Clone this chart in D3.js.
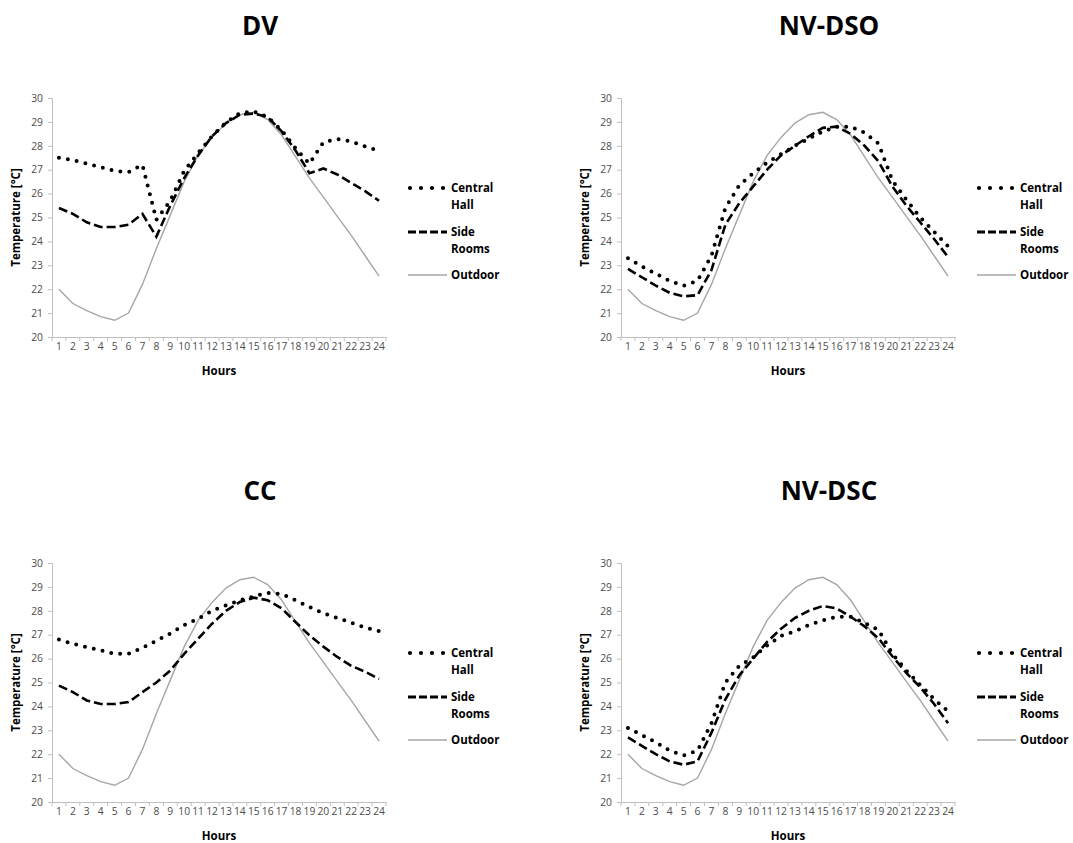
<!DOCTYPE html>
<html>
<head>
<meta charset="utf-8">
<script src="https://cdn.jsdelivr.net/npm/d3@7"></script>
<style>
  body { margin: 0; background: #fff; }
  svg { display: block; font-family: "Open Sans", sans-serif; }
</style>
</head>
<body>
<svg id="chart" width="1073" height="843"></svg>
<script>
const hours = d3.range(1, 25);
const yTicks = [20, 21, 22, 23, 24, 25, 26, 27, 28, 29, 30];

// outdoor temperature is the same in every panel
const outdoor = [22.0, 21.4, 21.1, 20.85, 20.7, 21.0, 22.2, 23.7, 25.1, 26.5, 27.6, 28.35,
  28.95, 29.3, 29.4, 29.1, 28.45, 27.55, 26.65, 25.85, 25.05, 24.25, 23.4, 22.55];

const dvCentral = [27.5, 27.4, 27.25, 27.1, 26.95, 26.9, 27.2, 24.9, 25.7, 26.95, 27.7, 28.4,
  28.98, 29.37, 29.44, 29.2, 28.65, 27.9, 27.25, 28.15, 28.28, 28.18, 27.97, 27.8];
const dvSide = [25.4, 25.15, 24.8, 24.6, 24.6, 24.7, 25.15, 24.2, 25.5, 26.65, 27.6, 28.4,
  28.95, 29.3, 29.35, 29.2, 28.6, 27.8, 26.85, 27.05, 26.8, 26.45, 26.1, 25.7];

const dsoCentral = [23.3, 22.95, 22.65, 22.35, 22.15, 22.35, 23.4, 25.4, 26.35, 26.85, 27.3, 27.65,
  28.0, 28.3, 28.6, 28.8, 28.8, 28.55, 28.1, 26.55, 25.75, 25.0, 24.4, 23.8];
const dsoSide = [22.85, 22.5, 22.15, 21.85, 21.7, 21.75, 22.8, 24.7, 25.6, 26.3, 27.0, 27.6,
  28.0, 28.4, 28.75, 28.8, 28.5, 28.0, 27.35, 26.3, 25.5, 24.8, 24.1, 23.35];

const ccCentral = [26.8, 26.62, 26.48, 26.35, 26.2, 26.2, 26.45, 26.75, 27.05, 27.4, 27.67, 28.0,
  28.23, 28.44, 28.6, 28.75, 28.7, 28.44, 28.16, 27.9, 27.7, 27.5, 27.3, 27.15];
const ccSide = [24.87, 24.6, 24.25, 24.1, 24.1, 24.18, 24.6, 25.0, 25.5, 26.2, 26.83, 27.46,
  28.0, 28.37, 28.55, 28.44, 28.1, 27.53, 26.97, 26.5, 26.07, 25.7, 25.45, 25.15];

const dscCentral = [23.1, 22.8, 22.5, 22.15, 21.95, 22.15, 23.3, 25.0, 25.7, 26.05, 26.55, 26.95,
  27.15, 27.4, 27.6, 27.75, 27.75, 27.5, 27.2, 26.2, 25.5, 24.9, 24.3, 23.8];
const dscSide = [22.7, 22.35, 22.0, 21.7, 21.56, 21.7, 22.9, 24.3, 25.3, 26.0, 26.7, 27.25,
  27.7, 28.0, 28.2, 28.1, 27.75, 27.35, 26.85, 26.1, 25.4, 24.8, 24.1, 23.3];

const titles = ["DV", "NV-DSO", "CC", "NV-DSC"];
const seriesNames = ["Central Hall", "Side Rooms", "Outdoor"];

const panels = [
  { title: titles[0], central: dvCentral, side: dvSide, x: 52, y: 98 },
  { title: titles[1], central: dsoCentral, side: dsoSide, x: 621, y: 98 },
  { title: titles[2], central: ccCentral, side: ccSide, x: 52, y: 563 },
  { title: titles[3], central: dscCentral, side: dscSide, x: 621, y: 563 }
];

const W = 334, H = 239;
const svg = d3.select("#chart");

const styles = {
  "Central Hall": { stroke: "#000", width: 4, dash: "0,9", cap: "round" },
  "Side Rooms": { stroke: "#000", width: 2.6, dash: "9,4", cap: "butt" },
  "Outdoor": { stroke: "#a6a6a6", width: 1.4, dash: null, cap: "butt" }
};

panels.forEach(p => {
  const g = svg.append("g").attr("transform", `translate(${p.x},${p.y})`);

  const x = d3.scaleBand().domain(hours).range([0, W]);
  const y = d3.scaleLinear().domain([20, 30]).range([H, 0]);

  // title
  svg.append("text")
    .attr("x", p.x + 208)
    .attr("y", p.y - 63)
    .attr("text-anchor", "middle")
    .style("font-size", "26px")
    .style("font-weight", "bold")
    .text(p.title);

  // y axis
  const yAxis = g.append("g").call(d3.axisLeft(y).tickValues(yTicks).tickSize(4).tickPadding(5));
  // x axis, ticks sit between categories like Excel
  const xAxis = g.append("g").attr("transform", `translate(0,${H})`)
    .call(d3.axisBottom(x).tickSize(0).tickPadding(6));
  xAxis.selectAll(".tick")
    .append("line")
    .attr("x1", -x.bandwidth() / 2).attr("x2", -x.bandwidth() / 2)
    .attr("y1", 0).attr("y2", 4);
  xAxis.append("line")
    .attr("x1", W).attr("x2", W).attr("y1", 0).attr("y2", 4);

  [yAxis, xAxis].forEach(a => {
    a.select(".domain").attr("stroke", "#bfbfbf");
    a.selectAll("line").attr("stroke", "#bfbfbf");
    a.selectAll(".tick text")
      .attr("fill", "#4d4d4d")
      .style("font-family", "'Open Sans', sans-serif")
      .style("font-size", "10.3px");
  });

  g.append("text")
    .attr("transform", `translate(-36,${H / 2}) rotate(-90)`)
    .attr("text-anchor", "middle")
    .attr("dy", "0.35em")
    .style("font-size", "11.5px")
    .style("font-weight", "bold")
    .text("Temperature [°C]");

  g.append("text")
    .attr("x", W / 2)
    .attr("y", H + 38)
    .attr("text-anchor", "middle")
    .style("font-size", "11.5px")
    .style("font-weight", "bold")
    .text("Hours");

  const line = d3.line()
    .x((d, i) => x(hours[i]) + x.bandwidth() / 2)
    .y(d => y(d));

  const data = [
    { name: seriesNames[2], values: outdoor },
    { name: seriesNames[1], values: p.side },
    { name: seriesNames[0], values: p.central }
  ];

  g.selectAll(".series").data(data).join("path")
    .attr("fill", "none")
    .attr("d", d => line(d.values))
    .attr("stroke", d => styles[d.name].stroke)
    .attr("stroke-width", d => styles[d.name].width)
    .attr("stroke-dasharray", d => styles[d.name].dash)
    .attr("stroke-linecap", d => styles[d.name].cap);

  // legend
  const lg = g.append("g").attr("transform", `translate(${W + 22},0)`);
  const legendRows = [
    { name: seriesNames[0], lines: ["Central", "Hall"], y: 90 },
    { name: seriesNames[1], lines: ["Side", "Rooms"], y: 134 },
    { name: seriesNames[2], lines: ["Outdoor"], y: 177 }
  ];
  legendRows.forEach(r => {
    const s = styles[r.name];
    lg.append("line")
      .attr("x1", r.name === "Central Hall" ? 2 : 0).attr("x2", 39)
      .attr("y1", r.y).attr("y2", r.y)
      .attr("stroke", s.stroke)
      .attr("stroke-width", r.name === "Outdoor" ? 1.4 : (r.name === "Side Rooms" ? 3 : 4.2))
      .attr("stroke-dasharray", r.name === "Central Hall" ? "0,11" : (r.name === "Side Rooms" ? "8,3" : null))
      .attr("stroke-linecap", s.cap);
    r.lines.forEach((t, i) => {
      lg.append("text")
        .attr("x", 43)
        .attr("y", r.y + i * 17)
        .attr("dy", "0.35em")
        .style("font-size", "11.5px")
        .style("font-weight", "bold")
        .text(t);
    });
  });
});
</script>
</body>
</html>
